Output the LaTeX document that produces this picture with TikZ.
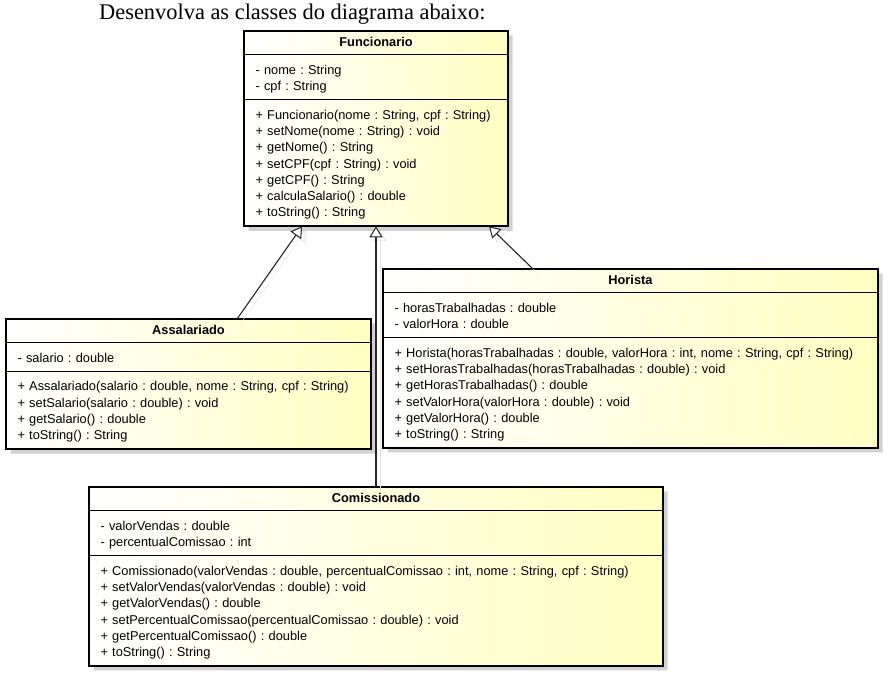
\documentclass[tikz,border=0pt]{standalone}
\usepackage{fontspec}
\setmainfont{Liberation Serif}
\setsansfont{Liberation Sans}
\usetikzlibrary{arrows.meta, positioning, shapes.multipart, shadows, calc}
\definecolor{cyellow}{HTML}{FFFFC2}
\definecolor{cline}{HTML}{262626}
\newcommand{\topstrut}{\rule{0pt}{13.2pt}}
\newcommand{\botstrut}{\rule[-3.2pt]{0pt}{0pt}}
\newcommand{\classparts}[3]{\noindent\hfill\rule[-2.2pt]{0pt}{11.3pt}\textbf{#1}\hfill\null
  \nodepart{two}\noindent\topstrut#2\botstrut
  \nodepart{three}\noindent\topstrut#3\botstrut}
\tikzset{
  every picture/.style={x=1pt, y=1pt},
  umlclass/.style={rectangle split, rectangle split parts=3, draw=black, line width=0.8pt,
    left color=white, right color=cyellow, text width=#1, align=left,
    inner xsep=11.5pt, inner ysep=5.75pt, outer sep=0pt, anchor=north west,
    font=\sffamily\fontsize{12.8}{16.3}\selectfont\frenchspacing,
    drop shadow={shadow xshift=4.5pt, shadow yshift=-4.5pt, fill=black!40, opacity=0.45}},
  frame/.style={draw=black, line width=1.8pt},
  inherit/.style={-{Triangle[fill=white, length=11pt, width=13pt, line width=1pt]}, draw=cline, line width=1.1pt,
    preaction={draw=black!10, transform canvas={xshift=4pt, yshift=-4pt}}},
  title/.style={font=\fontsize{22.4}{27}\selectfont, anchor=base west, inner sep=0pt},
}
\begin{document}
\begin{tikzpicture}
  \useasboundingbox (0,0) rectangle (892,679);
  \node[title] (title) at (99,659) {Desenvolva as classes do diagrama abaixo:};

  \node[umlclass=241pt] (func) at (244,648) {\classparts{Funcionario}
    {- nome : String\\- cpf : String}
    {+ Funcionario(nome : String, cpf : String)\\+ setNome(nome : String) : void\\+ getNome() : String\\+ setCPF(cpf : String) : void\\+ getCPF() : String\\+ calculaSalario() : double\\+ toString() : String}};
  \node[umlclass=342pt] (asl) at (6,360) {\classparts{Assalariado}
    {- salario : double}
    {+ Assalariado(salario : double, nome : String, cpf : String)\\+ setSalario(salario : double) : void\\+ getSalario() : double\\+ toString() : String}};
  \node[umlclass=472pt] (hor) at (383,410) {\classparts{Horista}
    {- horasTrabalhadas : double\\- valorHora : double}
    {+ Horista(horasTrabalhadas : double, valorHora : int, nome : String, cpf : String)\\+ setHorasTrabalhadas(horasTrabalhadas : double) : void\\+ getHorasTrabalhadas() : double\\+ setValorHora(valorHora : double) : void\\+ getValorHora() : double\\+ toString() : String}};
  \node[umlclass=551pt] (com) at (89,192) {\classparts{Comissionado}
    {- valorVendas : double\\- percentualComissao : int}
    {+ Comissionado(valorVendas : double, percentualComissao : int, nome : String, cpf : String)\\+ setValorVendas(valorVendas : double) : void\\+ getValorVendas() : double\\+ setPercentualComissao(percentualComissao : double) : void\\+ getPercentualComissao() : double\\+ toString() : String}};
  \foreach \c in {func, asl, hor, com}
    \draw[frame] (\c.north west) rectangle (\c.south east);

  % generalizations
  \draw[inherit] ($(asl.north west)!0.633!(asl.north east)$) -- ($(func.south west)!0.22!(func.south east)$);
  \draw[inherit] (com.north) -- (func.south);
  \draw[inherit] ($(hor.north west)!0.303!(hor.north east)$) -- ($(func.south west)!0.928!(func.south east)$);
\end{tikzpicture}
\end{document}
